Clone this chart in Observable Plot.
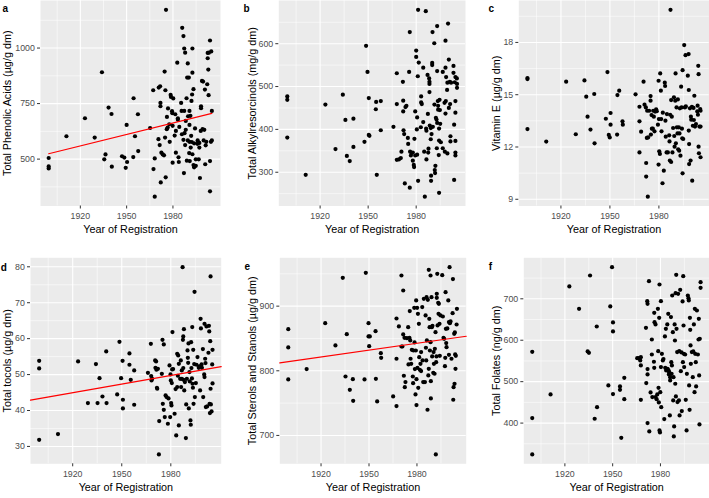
<!DOCTYPE html>
<html><head><meta charset="utf-8">
<script src="https://cdn.jsdelivr.net/npm/d3@7"></script>
<script src="https://cdn.jsdelivr.net/npm/@observablehq/plot@0.6"></script>
<style>
body{margin:0;background:#fff;}
#fig{position:relative;width:709px;height:498px;overflow:hidden;font-family:"Liberation Sans",Arial,sans-serif;background:#fff;}
#fig > div{position:absolute;}
</style></head><body><div id="fig"></div>
<script>
// [year of registration, value]
const phenolicAcids = [[1899.5,505],[1899.5,467],[1899.5,458],[1911,603],[1923,684],[1929.3,597],[1934,891],[1935.5,499],[1936.3,521],[1938.3,732],[1940.2,703],[1940.4,466],[1947,513],[1948.5,507],[1949.4,461],[1950,654],[1950.3,487],[1954.3,509],[1954.5,774],[1955.4,603],[1957.3,702],[1957.5,536],[1965.2,640],[1967.2,810],[1967.4,455],[1968.2,331],[1968.2,503],[1970.8,822],[1971.7,828],[1971.9,753],[1971.9,738],[1970.6,590],[1971.4,563],[1972.5,529],[1973.4,521],[1972.1,395],[1974.2,517],[1974.6,894],[1975.1,810],[1974.9,597],[1975.3,418],[1976,635],[1976.6,642],[1976.1,690],[1976.8,728],[1977.6,657],[1977.9,578],[1978.5,789],[1978.7,780],[1979.4,716],[1979.6,707],[1980.2,773],[1979.8,650],[1979.8,484],[1981.1,606],[1981.5,702],[1981.9,529],[1982.8,934],[1983.2,684],[1983.2,677],[1983.8,487],[1983.6,508],[1984.1,645],[1985.3,753],[1985.6,717],[1986,1091],[1986.8,1054],[1986.8,587],[1987.1,437],[1987.3,717],[1987.3,998],[1987.5,617],[1987.9,979],[1987.9,563],[1988.3,632],[1988.8,774],[1989.2,867],[1989.6,584],[1989.6,931],[1989.8,693],[1990.3,867],[1990.5,527],[1990.7,717],[1990.7,654],[1990.7,578],[1990.9,491],[1991.3,695],[1991.8,605],[1992,762],[1992.2,577],[1992.4,791],[1992.6,998],[1992.6,889],[1992.6,522],[1993.3,815],[1993.7,571],[1993.3,473],[1993.7,463],[1994.3,638],[1994.8,499],[1995.8,569],[1996,584],[1996.7,499],[1997.1,552],[1997.1,573],[1997.5,415],[1998,627],[1998.2,738],[1998.2,729],[1998.8,852],[1999.5,849],[1999.2,635],[1999.9,584],[2000.3,632],[2000.7,813],[2000.9,477],[2001.2,562],[2001.6,578],[2002.2,837],[2002.5,954],[2002.5,978],[2002.9,903],[2003.1,788],[2003.3,979],[2004,1034],[2004,491],[2004,355],[2004.6,578],[2004.8,985],[2005.2,717],[2005.2,584],[1975.5,1172],[1988.3,672],[1985.8,612],[1981.9,627],[1994.8,470],[1989,493],[1991.5,552]];

const alkylresorcinols = [[1899.5,477],[1899.5,469],[1899.5,381],[1911,294],[1923.3,458],[1929.6,354],[1934.2,481],[1935.8,422],[1936.7,338],[1938.5,326],[1940.8,425],[1940.8,359],[1947.7,371],[1948.7,595],[1949.6,534],[1950.4,473],[1950.4,387],[1950.8,385],[1954.8,447],[1955,464],[1955.4,294],[1957.9,466],[1957.9,398],[1965.8,406],[1967.9,531],[1967.9,459],[1967.9,329],[1969.2,330],[1970.4,333],[1970.8,348],[1971.7,511],[1971.9,467],[1971.9,442],[1972.1,398],[1972.5,389],[1972.9,274],[1973.3,452],[1973.9,455],[1974.8,380],[1975,366],[1975.6,534],[1976,627],[1976,264],[1976.2,348],[1976.7,339],[1977.1,345],[1977.9,346],[1977.9,327],[1978.5,317],[1978.7,312],[1978.9,378],[1979.4,442],[1979.4,339],[1980,584],[1980,569],[1980.4,400],[1980.6,428],[1980.6,341],[1981,524],[1981.2,679],[1981.2,280],[1981.6,556],[1982.9,405],[1983.1,477],[1983.1,463],[1983.5,459],[1984.4,544],[1984.4,417],[1985,348],[1985.4,243],[1986,676],[1986.2,402],[1986.4,397],[1986.4,330],[1987.1,527],[1987.3,436],[1987.5,346],[1987.7,355],[1988.1,519],[1988.3,511],[1988.3,506],[1988.3,487],[1988.5,409],[1989.1,403],[1989.1,377],[1989.3,280],[1989.3,292],[1989.6,389],[1990,555],[1990,550],[1990.2,627],[1990.4,406],[1991.3,601],[1991.4,458],[1991.6,305],[1991.8,298],[1992,315],[1992.3,427],[1992.7,423],[1992.9,356],[1993.1,641],[1993.1,536],[1993.1,415],[1993.5,466],[1993.7,455],[1993.7,446],[1994.1,340],[1994.3,252],[1994.3,402],[1994.3,374],[1994.6,469],[1994.8,445],[1995,413],[1995.4,370],[1996.6,534],[1996.6,356],[1997.7,462],[1997.9,348],[1998.3,607],[1998.3,544],[1998.3,437],[1998.5,466],[1998.7,522],[1999.3,492],[1999.5,509],[1999.5,344],[1999.9,647],[2000.4,563],[2000.4,450],[2001,511],[2001.2,459],[2001.4,384],[2001.4,372],[2001.8,509],[2003.3,548],[2003.3,532],[2003.7,411],[2003.7,282],[2004.1,510],[2004.5,522],[2004.5,466],[2004.5,439],[2004.5,373],[2004.5,346],[2004.5,339],[2005.4,519],[2005.5,506],[2005.5,497]];

const vitaminE = [[1899.5,15.96],[1899.5,15.9],[1899.5,13.03],[1911,12.31],[1923.2,15.75],[1929.1,12.73],[1934.4,15.82],[1935.5,14.89],[1936.3,13.74],[1938.1,13.0],[1940.4,15.04],[1940.6,12.21],[1947.5,13.62],[1948.5,16.3],[1949.3,12.69],[1949.9,12.55],[1950.4,13.95],[1950.4,13.28],[1954.4,12.71],[1954.6,14.98],[1955.7,15.23],[1957.7,13.47],[1957.9,13.28],[1965.7,15.02],[1968.1,13.47],[1968.1,14.31],[1968.1,11.69],[1969.1,12.88],[1970.6,15.75],[1971.2,14.43],[1972,14.27],[1972.2,11.08],[1972.2,10.3],[1972.6,12.52],[1972.8,14.08],[1973.2,9.15],[1973.4,12.55],[1974,14.08],[1974.9,14.92],[1974.9,14.66],[1975.1,12.71],[1975.5,13.83],[1975.7,13.05],[1976.3,13.05],[1976.5,14.08],[1976.9,13.74],[1977.3,12.9],[1977.7,14.03],[1978.3,14.16],[1978.7,14.05],[1979.4,13.28],[1979.8,15.8],[1979.8,10.99],[1980,13.6],[1980.2,11.75],[1980.6,11.6],[1980.8,16.22],[1981.2,15.23],[1981.4,13.6],[1981.6,12.9],[1982.2,9.92],[1982.4,13.97],[1983,10.64],[1983.6,15.69],[1983.8,15.5],[1984,13.51],[1984.2,12.59],[1984.7,11.69],[1984.9,13.89],[1985.5,11.69],[1986.3,12.67],[1986.5,12.32],[1986.7,11.22],[1986.9,13.85],[1987.1,19.87],[1987.5,11.14],[1987.5,14.69],[1987.9,13.74],[1988.3,11.69],[1988.7,13.09],[1989.2,14.85],[1989.4,12.63],[1989.6,12.02],[1990,14.66],[1990.2,16.22],[1990.4,12.21],[1990.8,14.27],[1991,13.13],[1991.4,12.78],[1991.6,14.73],[1991.8,11.87],[1992.2,13.13],[1992.4,11.79],[1992.6,12.78],[1992.8,14.22],[1993.2,11.5],[1993.6,15.46],[1993.9,14.27],[1994.1,13.05],[1994.3,12.5],[1994.5,16.41],[1994.5,10.49],[1994.9,12.46],[1995.5,17.85],[1995.9,14.27],[1996.3,17.27],[1996.5,14.33],[1997.7,16.09],[1998.2,17.33],[1998.3,15.27],[1998.3,12.94],[1998.5,12.17],[1998.5,11.02],[1999,14.22],[1999.4,11.22],[1999.6,13.74],[1999.8,13.57],[2000.2,14.31],[2000.4,10.07],[2000.8,13.22],[2001.2,14.24],[2001.4,13.55],[2001.7,14.94],[2002.1,13.17],[2002.7,13.32],[2003.5,14.04],[2003.7,14.37],[2003.9,13.85],[2004.1,16.66],[2004.3,16.18],[2004.3,12.02],[2004.5,11.64],[2004.8,13.17],[2005.3,14.18],[2005.5,11.41],[2005.5,13.17],[2005.5,14.08]];

const tocols = [[1899.5,53.84],[1899.5,51.7],[1899.5,31.85],[1911,33.43],[1923.3,53.65],[1929.3,42.06],[1934.2,52.91],[1935.2,42.06],[1936.4,49.0],[1938.2,43.9],[1940.5,56.44],[1940.7,42.06],[1947.2,44.47],[1948.6,59.13],[1949.6,49.0],[1950.5,53.84],[1950.7,42.99],[1950.7,40.58],[1954.7,55.88],[1954.7,52.73],[1955.5,48.55],[1957.6,51.15],[1957.6,41.6],[1966,50.5],[1967.8,58.57],[1968,49.57],[1968.2,48.37],[1968.6,48.83],[1970.4,53.93],[1970.6,51.89],[1971,53.65],[1971.2,51.34],[1971.5,46.33],[1971.7,46.05],[1972.1,51.61],[1972.7,27.77],[1972.9,37.05],[1974.5,50.22],[1974.9,59.68],[1975.1,41.87],[1975.7,58.39],[1975.7,40.2],[1976.3,38.16],[1976.8,44.19],[1977.4,43.73],[1978.2,36.31],[1978.6,43.36],[1979.2,52.54],[1979.6,38.16],[1979.8,50.04],[1980,48.37],[1980.2,42.06],[1980.4,41.41],[1980.6,47.63],[1980.8,51.43],[1981,61.82],[1981.4,51.52],[1982.3,39.09],[1982.9,45.96],[1983.3,33.06],[1983.9,55.79],[1983.9,46.51],[1984.3,49.67],[1984.5,55.32],[1984.9,53.0],[1984.9,35.84],[1985.7,48.83],[1986.1,53.93],[1986.3,46.51],[1986.7,51.15],[1986.7,48.83],[1987.2,79.9],[1987.4,59.68],[1987.6,60.61],[1987.6,51.8],[1987.8,48.55],[1988,62.65],[1988.2,45.58],[1988.6,47.91],[1989.2,32.32],[1989.4,41.69],[1989.8,48.83],[1990.2,56.72],[1990.4,54.67],[1990.6,53.28],[1990.8,58.66],[1991,40.58],[1991.4,50.69],[1991.6,48.09],[1992,37.24],[1992.2,36.03],[1992.4,59.03],[1992.6,51.8],[1992.9,48.92],[1993.1,63.21],[1993.3,47.44],[1993.5,46.33],[1993.7,56.9],[1993.9,41.87],[1994.3,52.91],[1994.5,73.04],[1994.7,43.73],[1995.3,47.63],[1995.7,52.73],[1996.3,54.86],[1997.1,51.89],[1997.5,52.26],[1997.9,45.58],[1998.2,65.53],[1998.4,62.84],[1998.8,52.82],[1999,51.89],[1999.6,57.09],[1999.8,43.73],[2000.4,50.04],[2000.6,64.14],[2000.6,49.3],[2001,54.4],[2001.2,53.19],[2001.4,40.95],[2001.8,63.4],[2002.2,41.13],[2003,56.07],[2003.3,63.58],[2003.5,62.0],[2003.7,41.87],[2003.9,39.28],[2004.1,59.31],[2004.3,77.31],[2004.3,46.05],[2004.5,41.69],[2004.9,39.74],[2005.3,52.82],[2005.5,47.54],[2005.5,56.9]];

const sterolsStanols = [[1899.5,864.4],[1899.5,836.1],[1899.5,786.6],[1911,802.6],[1922.6,873.7],[1929,839.2],[1933.6,943.8],[1935.3,791.2],[1936.1,856.7],[1938,770.6],[1939.9,787.1],[1940.1,753.6],[1947.2,786.6],[1948,951.5],[1949.7,873.7],[1949.7,853.1],[1950.1,838.1],[1950.5,853.1],[1954.1,861.3],[1954.3,787.6],[1955.1,752.6],[1957.4,827.3],[1957.6,820.1],[1965.1,760.3],[1967.2,880.9],[1967.2,818.6],[1967.2,745.4],[1968.7,868.6],[1970.3,947.4],[1970.3,837.6],[1970.9,837.6],[1971.4,924.2],[1971.4,856.2],[1971.8,792.3],[1972.2,851],[1972.4,774.7],[1972.8,782.5],[1973.7,850.5],[1974.5,867.5],[1974.7,809.8],[1975.3,851],[1975.5,892.3],[1975.8,846.9],[1976,818.6],[1976.4,810.8],[1976.8,832.5],[1977.4,791.2],[1977.6,780.9],[1977.8,831.4],[1978.3,897.4],[1978.5,843.8],[1978.7,802.6],[1979.1,763.4],[1979.3,831.4],[1979.5,908.8],[1979.7,787.1],[1979.7,746.9],[1980.1,897.4],[1980.3,804.6],[1980.6,888.1],[1980.8,773.7],[1981.2,872.7],[1981.4,821.1],[1981.8,801.5],[1982.2,810.8],[1982.6,828.9],[1982.6,799.5],[1983.3,898.5],[1983.5,816],[1983.9,782.5],[1984.3,911.3],[1985,782.5],[1985.4,885.6],[1985.6,835.6],[1985.8,816],[1986,913.9],[1986.2,846.9],[1986.6,739.7],[1986.8,909.8],[1987.1,792.8],[1987.4,803.1],[1987.4,956.2],[1987.7,880.4],[1987.9,867.5],[1988.1,831.4],[1988.5,947.4],[1988.5,844.3],[1988.7,757.2],[1988.7,784],[1989.1,913.9],[1989.3,867.5],[1989.5,822.2],[1989.7,869.6],[1990.2,796.9],[1990.4,828.9],[1990.6,810.8],[1991,795.4],[1991.2,834],[1991.6,859.8],[1991.8,670.6],[1992,813.4],[1992.2,822.2],[1992.4,919.1],[1992.4,912.9],[1992.7,950],[1992.9,870.1],[1993.3,905.2],[1993.5,888.1],[1993.7,903.6],[1994.1,872.7],[1994.3,823.2],[1994.7,885.6],[1995.8,947.9],[1996.2,884],[1996.6,851],[1997,849.5],[1997.5,807.2],[1997.7,820.1],[1997.9,921.6],[1998.1,864.9],[1998.3,842.8],[1998.5,836.6],[1999,865.5],[1999.6,908.8],[2000,875.3],[2000,824.7],[2000.4,960.3],[2000.6,873.7],[2001,876.3],[2001.6,818.6],[2002.3,889.2],[2002.5,941.8],[2002.7,755.2],[2002.9,774.7],[2003.3,857.2],[2003.5,779.9],[2003.7,859.3],[2003.9,825.3],[2004.1,803.1],[2004.3,823.2],[2004.8,871.6],[2005,895.9]];

const folates = [[1899.5,572],[1899.5,412],[1899.5,324.3],[1911,469.1],[1922.8,729.8],[1928.9,675.9],[1934.3,572.9],[1935.1,569.7],[1935.8,756.3],[1938.7,410.4],[1940,633.2],[1940.2,438.5],[1947.3,490.8],[1948.5,681.5],[1949.6,776.4],[1950.2,642.9],[1950.2,621.2],[1950.2,469.9],[1954.6,488.4],[1954.6,480.4],[1955.4,364.5],[1957.3,509.3],[1957.3,457.8],[1965.4,556.8],[1966.5,556.8],[1967.3,551.2],[1967.7,539.1],[1967.7,559.2],[1967.7,456.2],[1970.9,630],[1971.1,496.5],[1971.7,694.4],[1971.9,687.9],[1971.9,530.3],[1971.9,517.4],[1971.9,399.9],[1972.8,742.6],[1973,379.8],[1973.8,474.1],[1974.6,565.6],[1974.6,601.8],[1974.9,462.7],[1975.9,548],[1976.1,533.5],[1976.1,666.2],[1976.3,643.7],[1976.9,638.1],[1976.9,462.7],[1977.6,457.8],[1978,469.1],[1978.4,675.9],[1978.6,573.7],[1978.8,485.2],[1979,449.8],[1979.2,654.1],[1979.4,734.6],[1979.4,382.2],[1979.7,377.4],[1979.9,474.7],[1980.3,694.4],[1980.3,535.1],[1980.5,438.5],[1980.9,567.3],[1981.5,551.2],[1981.9,554.4],[1982.4,409.6],[1982.8,609.1],[1983,533.5],[1983.4,627.6],[1983.6,527],[1984,529.4],[1984.3,638.1],[1984.5,531],[1984.9,663.8],[1985.1,527],[1985.3,517.4],[1985.5,523],[1985.9,418.4],[1986.1,510.9],[1986.1,502.9],[1986.6,655.8],[1986.8,547.1],[1987,519],[1987.2,539.1],[1987.4,708],[1987.8,619.5],[1988,454.6],[1988.2,510.9],[1988.4,367.7],[1988.6,391.9],[1988.9,638.1],[1989.1,599.4],[1989.3,494.9],[1989.5,713.7],[1989.7,464.3],[1989.9,757.9],[1990.1,627.6],[1990.5,571.3],[1990.7,450.6],[1991.1,712.1],[1991.6,454.6],[1991.8,573.7],[1992,418.4],[1992.4,721.7],[1992.8,525.4],[1993.2,570.5],[1993.4,428.9],[1993.9,693.6],[1994.1,547.1],[1994.3,754.7],[1994.5,635.6],[1994.7,567.3],[1994.9,535.1],[1995.5,565.6],[1995.9,456.2],[1996.4,382.2],[1996.6,519],[1997.2,708],[1997.6,701.6],[1997.8,696],[1998,490.8],[1998.3,432.1],[1998.5,654.1],[1998.7,625.2],[1998.9,587.4],[1999.1,543.1],[1999.7,571.3],[2000.3,510.9],[2000.6,572.9],[2001,638.1],[2001.4,474.7],[2001.6,675.9],[2001.8,567.3],[2002.2,547.1],[2002.4,488.4],[2002.9,671.8],[2003.5,565.6],[2003.9,601.8],[2004.1,651.7],[2004.3,515],[2004.5,396.7],[2004.7,603.5],[2005.2,740.2],[2005.2,726.5]];

const xTicks = [1920, 1950, 1980];
const xMinor = [1905, 1935, 1965, 1995];
const xTitle = "Year of Registration";

const panels = [
  {key:"a", data:phenolicAcids, title:"Total Phenolic Acids (µg/g dm)", yTicks:[500,750,1000], yMinor:[375,625,875,1125], fit:"data",
   left:0, top:0, width:240, height:249, ml:40, mr:20, mt:0, mb:43.5, kdx:-38, kdy:11, tdx:-32.8},
  {key:"b", data:alkylresorcinols, title:"Total Alkylresorcinols (mg/g dm)", yTicks:[300,400,500,600], yMinor:[250,350,450,550,650], fit:null,
   left:240, top:0, width:235, height:249, ml:38.3, mr:10, mt:0, mb:43.5, kdx:-35.3, kdy:11.7, tdx:-26.6},
  {key:"c", data:vitaminE, title:"Vitamin E (µg/g dm)", yTicks:[9,12,15,18], yMinor:[10.5,13.5,16.5,19.5], fit:null,
   left:485, top:0, width:224, height:249, ml:33.3, mr:0.3, mt:0, mb:43.5, kdx:-30.3, kdy:11.7, tdx:-22.1},
  {key:"d", data:tocols, title:"Total tocols (µg/g dm)", yTicks:[30,40,50,60,70,80], yMinor:[35,45,55,65,75], fit:"full",
   left:0, top:249, width:240, height:249, ml:30, mr:19.3, mt:8.3, mb:34.7, kdx:-29.7, kdy:12.7, tdx:-23.3},
  {key:"e", data:sterolsStanols, title:"Total Sterols and Stanols (µg/g dm)", yTicks:[700,800,900], yMinor:[750,850,950], fit:"full",
   left:240, top:249, width:235, height:249, ml:39.3, mr:9.3, mt:8.3, mb:34.7, kdx:-35.3, kdy:11.7, tdx:-27.6},
  {key:"f", data:folates, title:"Total Folates (ng/g dm)", yTicks:[400,500,600,700], yMinor:[350,450,550,650,750], fit:null,
   left:485, top:249, width:224, height:249, ml:38.3, mr:0, mt:8.3, mb:34.7, kdx:-35, kdy:11.7, tdx:-27.1}
];

function expand([a, b]) { const p = (b - a) * 0.05; return [a - p, b + p]; }
const allYears = panels.flatMap(p => p.data.map(d => d[0]));
const xDomain = expand(d3.extent(allYears));

function lm(pts) {
  const mx = d3.mean(pts, d => d[0]), my = d3.mean(pts, d => d[1]);
  const sxy = d3.sum(pts, d => (d[0] - mx) * (d[1] - my));
  const sxx = d3.sum(pts, d => (d[0] - mx) ** 2);
  const b = sxy / sxx;
  return x => my + b * (x - mx);
}

const fig = document.getElementById("fig");
const FONT = '"Liberation Sans", Arial, Helvetica, sans-serif';
const plain = d => String(d);

for (const p of panels) {
  const yDomain = expand(d3.extent(p.data, d => d[1]));
  const marks = [
    Plot.frame({fill: "#EBEBEB", stroke: "none"}),
    Plot.ruleX(xMinor, {stroke: "#ffffff", strokeWidth: 0.55}),
    Plot.ruleY(p.yMinor.filter(v => v > yDomain[0] && v < yDomain[1]), {stroke: "#ffffff", strokeWidth: 0.55}),
    Plot.ruleX(xTicks, {stroke: "#ffffff", strokeWidth: 1.1}),
    Plot.ruleY(p.yTicks, {stroke: "#ffffff", strokeWidth: 1.1}),
    Plot.axisX(xTicks, {tickSize: 3, tickPadding: 4, fontSize: 8.8, stroke: "#333333", fill: "#4D4D4D", label: null, tickFormat: plain}),
    Plot.axisY(p.yTicks, {tickSize: 3, tickPadding: 2.6, fontSize: 8.8, stroke: "#333333", fill: "#4D4D4D", label: null, tickFormat: plain}),
    Plot.dot(p.data, {x: d => d[0], y: d => d[1], r: 2.1, fill: "#000000", stroke: "none"})
  ];
  if (p.fit) {
    const f = lm(p.data);
    const ext = p.fit === "full" ? xDomain : d3.extent(p.data, d => d[0]);
    const line = ext.map(x => ({x, y: f(x)}));
    marks.push(Plot.line(line, {x: "x", y: "y", stroke: "#FF0000", strokeWidth: 1.2}));
  }
  marks.push(
    Plot.text([p.title], {frameAnchor: "left", rotate: -90, dx: p.tdx, fontSize: 10.8, fill: "#000000", textAnchor: "middle"}),
    Plot.text([xTitle], {frameAnchor: "bottom", dy: 26.8, fontSize: 10.8, fill: "#000000"}),
    Plot.text([p.key], {frameAnchor: "top-left", dx: p.kdx, dy: p.kdy, fontSize: 10, fontWeight: "bold", fill: "#000000", textAnchor: "start", lineAnchor: "bottom"})
  );
  const chart = Plot.plot({
    width: p.width, height: p.height,
    marginLeft: p.ml, marginRight: p.mr, marginTop: p.mt, marginBottom: p.mb,
    style: {fontFamily: FONT, background: "transparent", overflow: "visible"},
    x: {domain: xDomain, label: null},
    y: {domain: yDomain, label: null},
    marks
  });
  const holder = document.createElement("div");
  holder.style.left = p.left + "px";
  holder.style.top = p.top + "px";
  holder.style.width = p.width + "px";
  holder.style.height = p.height + "px";
  holder.appendChild(chart);
  fig.appendChild(holder);
}
</script></body></html>
